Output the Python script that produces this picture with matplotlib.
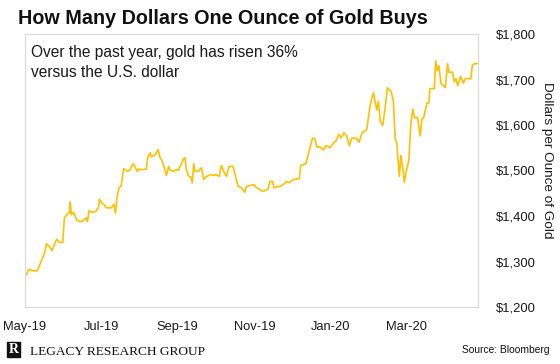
import numpy as np
import pandas as pd
import matplotlib
matplotlib.use('Agg')
import matplotlib.pyplot as plt
from matplotlib.patches import Rectangle

# Gold spot price (days counted from 20 May 2019)
start = pd.Timestamp('2019-05-20')
days = [0, 1.3, 2.9, 6.1, 9.1, 10.3, 12.9, 15.5, 17.3, 19.5,
        21.7, 23.5, 25.4, 27.6, 30.2, 31.6, 34.2, 35.6, 36.2, 37.2,
        39.0, 41.4, 43.6, 46.0, 48.7, 50.0, 51.4, 53.4, 56.7, 58.9,
        59.7, 61.5, 63.3, 65.1, 69.1, 71.2, 72.5, 73.7, 75.3, 77.1,
        79.0, 80.6, 82.4, 84.3, 86.5, 87.8, 89.8, 91.2, 93.2, 97.2,
        98.5, 100.4, 101.2, 103.9, 105.2, 106.7, 107.9, 110.5, 113.3, 115.1,
        115.9, 118.6, 121.3, 122.9, 125.3, 127.1, 128.2, 129.3, 131.2, 132.8,
        134.1, 135.2, 136.2, 138.6, 141.4, 143.2, 145.4, 147.5, 149.4, 151.2,
        153.4, 155.5, 157.4, 159.2, 161.4, 163.5, 166.7, 168.7, 170.8, 173.5,
        176.1, 177.5, 180.2, 183.4, 185.5, 188.2, 190.8, 194.9, 196.2, 198.4,
        199.4, 201.6, 204.3, 206.9, 209.6, 211.7, 214.9, 219.8, 220.9, 225.1,
        227.0, 228.9, 230.5, 232.4, 233.7, 236.9, 239.0, 241.2, 244.4, 247.6,
        249.2, 251.4, 253.3, 255.7, 257.8, 259.9, 261.8, 265.3, 267.7, 269.9,
        273.9, 276.5, 279.2, 281.9, 283.2, 284.6, 286.7, 288.8, 290.4, 293.4,
        295.2, 296.6, 297.9, 300.0, 301.2, 302.8, 303.9, 305.5, 307.6, 309.2,
        310.8, 312.1, 314.6, 316.7, 318.1, 319.4, 322.1, 323.7, 324.4, 328.0,
        329.1, 330.4, 331.7, 333.3, 335.4, 336.8, 338.6, 339.6, 342.6, 344.0,
        345.4, 346.7, 349.1, 351.3, 352.9, 355.8, 357.2, 358.5, 360.5, 363.0]
prices = [1274, 1271, 1283, 1280, 1279, 1282, 1300, 1318, 1339, 1333,
          1324, 1337, 1349, 1342, 1342, 1396, 1405, 1407, 1431, 1403,
          1408, 1391, 1388, 1388, 1396, 1388, 1412, 1408, 1410, 1419,
          1437, 1429, 1425, 1418, 1418, 1426, 1406, 1440, 1462, 1466,
          1504, 1501, 1498, 1502, 1515, 1511, 1498, 1503, 1502, 1503,
          1530, 1539, 1530, 1534, 1539, 1546, 1531, 1517, 1489, 1509,
          1502, 1498, 1502, 1500, 1515, 1526, 1528, 1502, 1487, 1486,
          1473, 1515, 1498, 1498, 1506, 1480, 1487, 1489, 1491, 1489,
          1491, 1487, 1511, 1498, 1487, 1509, 1509, 1487, 1465, 1462,
          1452, 1465, 1467, 1469, 1462, 1458, 1454, 1460, 1476, 1476,
          1462, 1464, 1465, 1469, 1476, 1473, 1480, 1482, 1511, 1515,
          1535, 1557, 1571, 1570, 1552, 1551, 1545, 1555, 1550, 1562,
          1565, 1579, 1572, 1583, 1576, 1554, 1571, 1571, 1562, 1582,
          1590, 1643, 1671, 1633, 1652, 1609, 1599, 1642, 1682, 1673,
          1653, 1570, 1561, 1487, 1533, 1504, 1474, 1498, 1523, 1604,
          1635, 1616, 1616, 1576, 1614, 1616, 1648, 1649, 1680, 1680,
          1741, 1719, 1730, 1692, 1686, 1682, 1735, 1716, 1716, 1695,
          1702, 1686, 1707, 1692, 1702, 1702, 1701, 1732, 1735, 1735]

tick_days = [0, 61, 122, 184, 245, 306]
tick_labels = ['May-19', 'Jul-19', 'Sep-19', 'Nov-19', 'Jan-20', 'Mar-20']
y_ticks = [1200, 1300, 1400, 1500, 1600, 1700, 1800]

dates = start + pd.to_timedelta(days, unit='D')
tick_dates = start + pd.to_timedelta(tick_days, unit='D')

W, H = 560, 364
fig = plt.figure(figsize=(W / 100, H / 100), dpi=100)
plt.rcParams['font.family'] = ['Liberation Sans', 'DejaVu Sans']

# plot box in pixel terms
left, right, top, bottom = 25, 478, 34, 307
ax = fig.add_axes([left / W, 1 - bottom / H, (right - left) / W, (bottom - top) / H])
ax.plot(dates, prices, color='#FFC000', lw=1.2)

ax.set_xlim(dates[0], dates[-1])
ax.set_ylim(1200, 1800)
ax.set_xticks(tick_dates)
ax.set_xticklabels(tick_labels)
ax.set_yticks(y_ticks)
ax.set_yticklabels([f'${v:,}' for v in y_ticks])
ax.yaxis.tick_right()
ax.tick_params(axis='x', length=0, pad=10, labelsize=9.3, colors='#1a1a1a')
ax.tick_params(axis='y', length=0, pad=13, labelsize=9.4, colors='#1a1a1a')
for lbl in ax.get_yticklabels():
    lbl.set_horizontalalignment('left')
for s in ax.spines.values():
    s.set_color('#D9D9D9')
    s.set_linewidth(0.8)

fig.text(547 / W, 1 - 160 / H, 'Dollars per Ounce of Gold', rotation=270,
         ha='center', va='center', fontsize=9.7, color='#1a1a1a')

# title and note
fig.text(18 / W, 1 - 24 / H, 'How Many Dollars One Ounce of Gold Buys',
         fontweight='bold', fontsize=14.2, color='#111111', va='baseline')
fig.text(31 / W, 1 - 56.7 / H, 'Over the past year, gold has risen 36%',
         fontsize=11.2, color='#1a1a1a', va='baseline')
fig.text(31 / W, 1 - 77.3 / H, 'versus the U.S. dollar',
         fontsize=11.2, color='#1a1a1a', va='baseline')

# footer
fig.patches.append(Rectangle((7 / W, 1 - 357 / H), 13 / W, 15 / H,
                             transform=fig.transFigure, color='#111111'))
fig.text(13.5 / W, 1 - 349.5 / H, 'R', family='Liberation Serif', fontweight='bold',
         fontsize=10, color='white', ha='center', va='center')
fig.text(30 / W, 1 - 355 / H, 'LEGACY RESEARCH GROUP', family='Liberation Serif',
         fontsize=9.6, color='#111111', va='baseline')
fig.text(550 / W, 1 - 353 / H, 'Source: Bloomberg',
         fontsize=7.4, color='#111111', ha='right', va='baseline')

fig.savefig('out.png', dpi=100)
